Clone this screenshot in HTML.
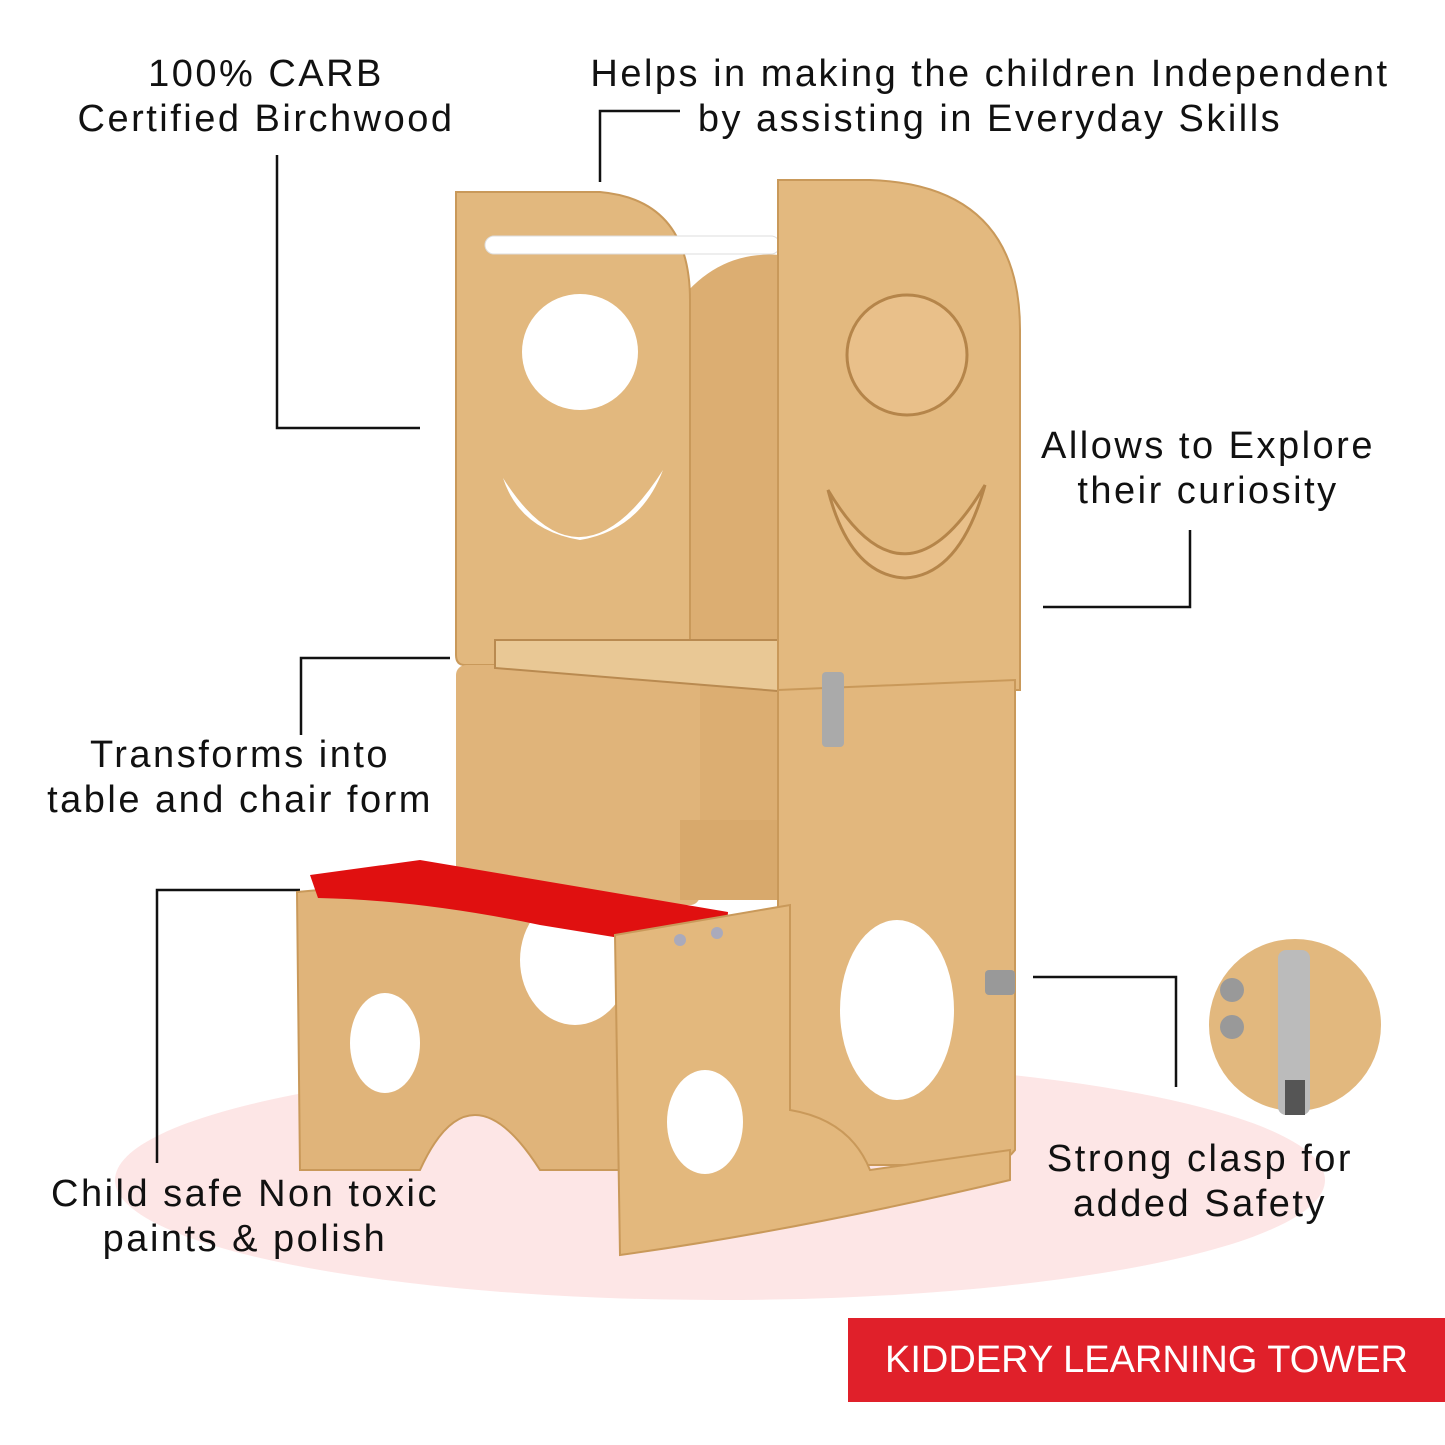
<!DOCTYPE html>
<html><head><meta charset="utf-8"><style>
html,body{margin:0;padding:0;background:#fff;}
body{width:1445px;height:1445px;position:relative;overflow:hidden;font-family:"Liberation Sans",sans-serif;}
.t{position:absolute;font-size:38px;color:#111;text-align:center;line-height:45px;white-space:nowrap;letter-spacing:2.5px;}
</style></head><body>
<svg width="1445" height="1445" style="position:absolute;left:0;top:0">
<ellipse cx="720" cy="1180" rx="605" ry="120" fill="#fde6e6"/>
<g stroke="#111" stroke-width="2.5" fill="none">
<polyline points="277,155 277,428 420,428"/>
<polyline points="600,182 600,111 680,111"/>
<polyline points="1190,530 1190,607 1043,607"/>
<polyline points="301,735 301,658 450,658"/>
<polyline points="157,1163 157,890 300,890"/>
<polyline points="1176,1087 1176,977 1033,977"/>
</g>
<path d="M680 300 Q720 250 780 255 L780 900 L680 900 Z" fill="#dcae72"/>
<path d="M456 192 L600 192 Q690 200 690 300 L690 665 L465 665 Q456 665 456 655 Z" fill="#e2b87e" stroke="#c9995a" stroke-width="2"/>
<circle cx="580" cy="352" r="58" fill="#fff"/>
<path d="M503 478 Q580 600 663 470 Q640 530 580 540 Q520 530 503 478 Z" fill="#fff"/>
<rect x="485" y="236" width="295" height="18" rx="9" fill="#fff" stroke="#ddd"/>
<rect x="456" y="665" width="244" height="240" rx="10" fill="#e0b47a"/>
<rect x="680" y="820" width="100" height="80" fill="#d8a96c"/>
<path d="M495 640 L790 640 L790 692 L495 668 Z" fill="#e9c895" stroke="#b98a50" stroke-width="2"/>
<path d="M778 180 L870 180 Q1020 185 1020 330 L1020 690 L778 690 Z" fill="#e3b97f" stroke="#c9995a" stroke-width="2"/>
<circle cx="907" cy="355" r="60" fill="#e9c08a" stroke="#b5854a" stroke-width="3"/>
<path d="M828 490 Q905 620 985 485 Q960 575 905 578 Q850 575 828 490 Z" fill="#e9c08a" stroke="#b5854a" stroke-width="3"/>
<path d="M778 690 L1015 680 L1015 1150 Q1000 1170 960 1165 L778 1165 Z" fill="#e2b77d" stroke="#c9995a" stroke-width="2"/>
<ellipse cx="897" cy="1010" rx="57" ry="90" fill="#fff"/>
<path d="M297 892 L430 880 L620 930 L620 1170 L540 1170 Q470 1060 420 1170 L300 1170 Z" fill="#e0b47a" stroke="#c9995a" stroke-width="2"/>
<ellipse cx="385" cy="1043" rx="35" ry="50" fill="#fff"/>
<ellipse cx="575" cy="960" rx="55" ry="65" fill="#fff"/>
<path d="M310 875 L420 860 L728 912 L725 955 L540 925 Q420 900 318 898 Z" fill="#e01010"/>
<path d="M615 935 L790 905 L790 1110 Q850 1120 870 1170 L1010 1150 L1010 1180 Q800 1230 620 1255 Z" fill="#e3b87d" stroke="#c9995a" stroke-width="2"/>
<ellipse cx="705" cy="1122" rx="38" ry="52" fill="#fff"/>
<rect x="822" y="672" width="22" height="75" rx="4" fill="#aaa"/>
<rect x="985" y="970" width="30" height="25" rx="4" fill="#999"/>
<circle cx="680" cy="940" r="6" fill="#aab"/><circle cx="717" cy="933" r="6" fill="#aab"/>
<circle cx="1295" cy="1025" r="86" fill="#e2b87e"/>
<circle cx="1232" cy="990" r="12" fill="#999"/><circle cx="1232" cy="1027" r="12" fill="#999"/>
<rect x="1278" y="950" width="32" height="165" rx="8" fill="#bbb"/>
<rect x="1285" y="1080" width="20" height="35" fill="#555"/>
<rect x="848" y="1318" width="597" height="84" fill="#e0202a"/>
</svg>
<div class="t" style="left:40px;top:52px;width:452px">100% CARB<br>Certified Birchwood</div>
<div class="t" style="left:560px;top:52px;width:860px">Helps in making the children Independent<br>by assisting in Everyday Skills</div>
<div class="t" style="left:1010px;top:424px;width:396px">Allows to Explore<br>their curiosity</div>
<div class="t" style="left:20px;top:733px;width:440px">Transforms into<br>table and chair form</div>
<div class="t" style="left:20px;top:1172px;width:450px">Child safe Non toxic<br>paints &amp; polish</div>
<div class="t" style="left:1010px;top:1137px;width:380px">Strong clasp for<br>added Safety</div>
<div class="t" style="left:848px;top:1338px;width:597px;color:#fff;letter-spacing:0">KIDDERY LEARNING TOWER</div>
</body></html>
